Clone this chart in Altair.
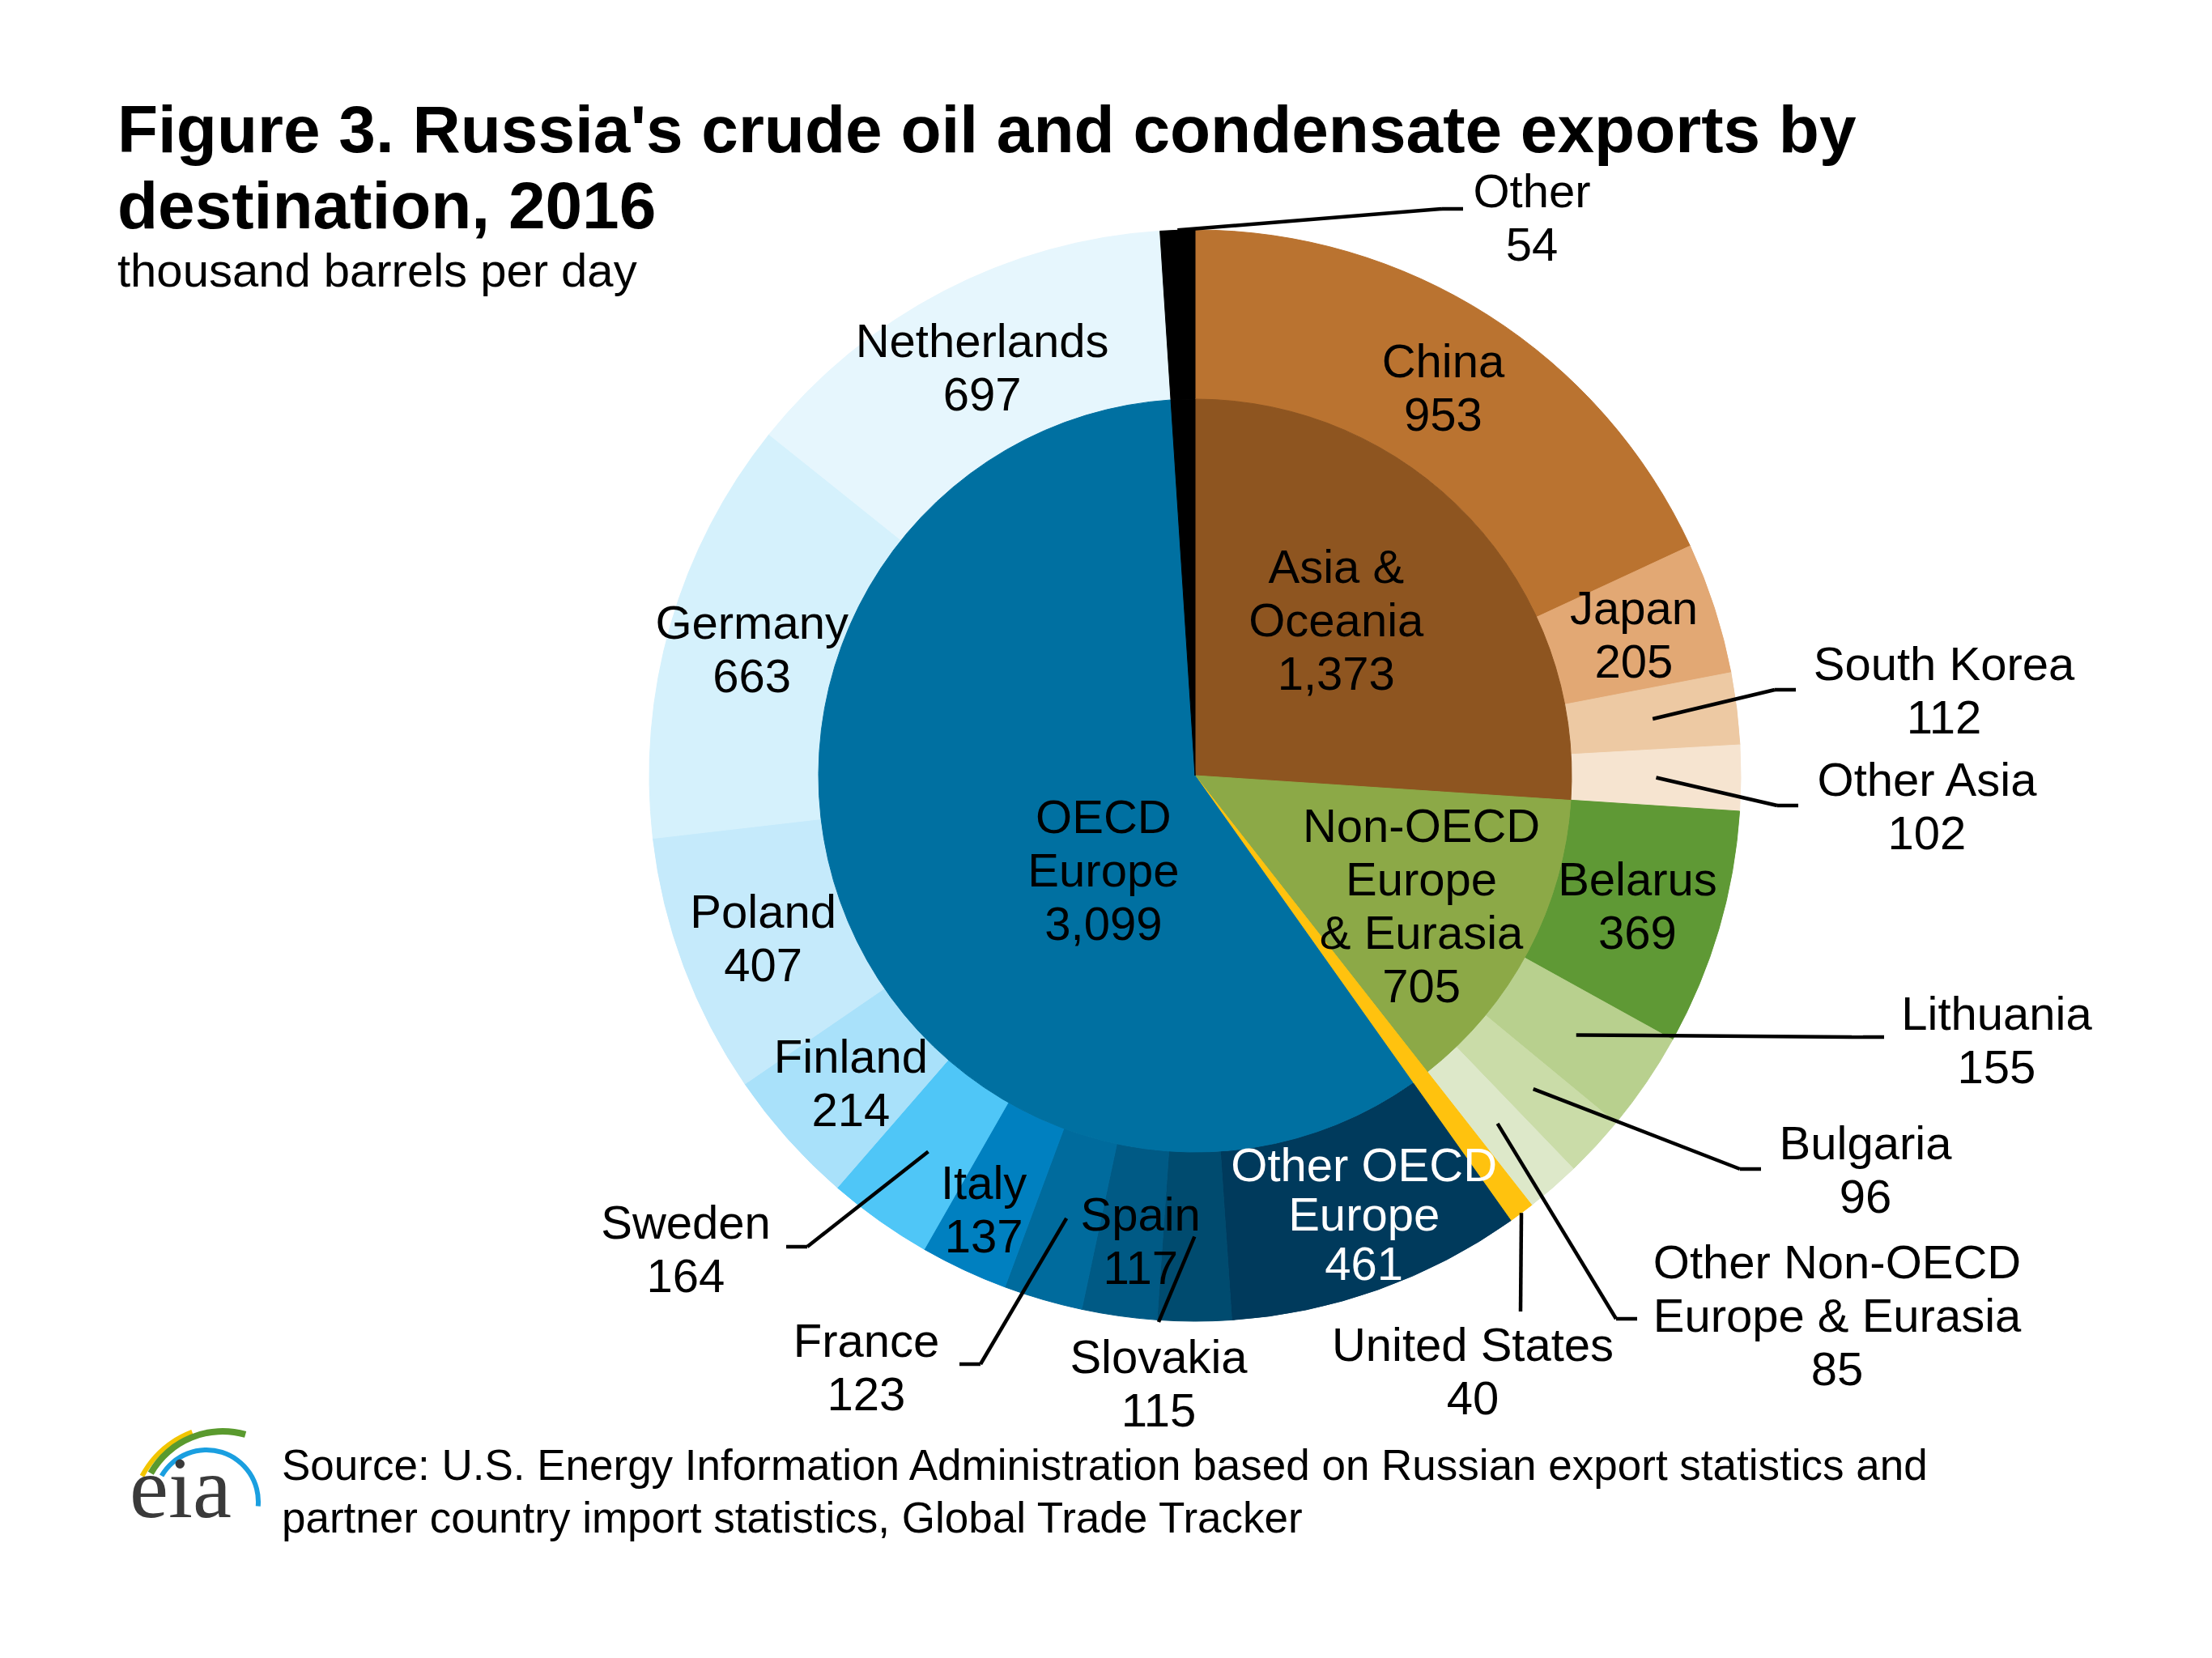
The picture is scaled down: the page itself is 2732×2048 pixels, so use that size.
import altair as alt
import pandas as pd
import numpy as np

# ---------------- data ----------------
regions = ["Asia & Oceania", "Non-OECD Europe & Eurasia", "United States", "OECD Europe", "Other"]
region_values = [1373, 705, 40, 3099, 54]
region_label_text = ["Asia &\nOceania", "Non-OECD\nEurope\n& Eurasia", "", "OECD\nEurope", ""]

countries = ["China", "Japan", "South Korea", "Other Asia",
             "Belarus", "Lithuania", "Bulgaria", "Other Non-OECD Europe & Eurasia",
             "United States",
             "Other OECD Europe", "Slovakia", "Spain", "France", "Italy", "Sweden",
             "Finland", "Poland", "Germany", "Netherlands",
             "Other"]
country_values = [953, 205, 112, 102, 369, 155, 96, 85, 40,
                  461, 115, 117, 123, 137, 164, 214, 407, 663, 697, 54]
country_label_text = ["China", "Japan", "South Korea", "Other Asia",
                      "Belarus", "Lithuania", "Bulgaria", "Other Non-OECD\nEurope & Eurasia",
                      "United States",
                      "Other OECD\nEurope", "Slovakia", "Spain", "France", "Italy", "Sweden",
                      "Finland", "Poland", "Germany", "Netherlands",
                      "Other"]

# ---------------- style ----------------
region_colors = ["#8E5520", "#8CA947", "#FFC20E", "#0070A1", "#000000"]
country_colors = ["#BA7330", "#E2A874", "#EDC9A3", "#F6E4D0",
                  "#5F9935", "#B8D08E", "#CADCA8", "#DDE8C9",
                  "#FFC20E",
                  "#003A5C", "#004B6F", "#005A85", "#006B9D", "#0080C0", "#4FC6F7",
                  "#A9E1FA", "#C5EAFB", "#D5F1FC", "#E6F6FD",
                  "#000000"]
FONT = "Liberation Sans"
LABEL_SIZE = 58
LINE_H = 66
WHITE_LINE_H = 61
TEXT_DY = 4          # optical correction for Vega's 'middle' baseline
W, H = 2700, 2020
CX, CY = 1468, 950
R_OUT, R_IN = 674, 465
R_MID = (R_OUT + R_IN) / 2

# labels drawn outside the ring: label offset from centre, leader end offset from label,
# horizontal tick length, leader start radius
OUTSIDE = {
    "Other": dict(l=(416, -690), e=(-85, -10), tick=-26, r=R_OUT),
    "South Korea": dict(l=(925, -106), e=(-183, 0), tick=-26, r=R_MID),
    "Other Asia": dict(l=(904, 37), e=(-159, 0), tick=-26, r=R_MID),
    "Lithuania": dict(l=(990, 326), e=(-139, -3), tick=-26, r=R_MID),
    "Bulgaria": dict(l=(828, 486), e=(-129, 0), tick=-26, r=R_MID),
    "Other Non-OECD Europe & Eurasia": dict(l=(793, 666), e=(-247, 5), tick=-26, r=R_MID),
    "United States": dict(l=(343, 735), e=(59, -73), tick=0, r=R_OUT),
    "Slovakia": dict(l=(-45, 750), e=(0, -75), tick=0, r=R_MID),
    "France": dict(l=(-406, 730), e=(115, -3), tick=26, r=R_MID),
    "Sweden": dict(l=(-629, 584), e=(124, -2), tick=26, r=R_MID),
}
# in-ring label tweaks: radius offset, angle nudge (deg)
RING_NUDGE = {"Italy": (26, 0.9), "Spain": (8, -1.3), "Other OECD Europe": (10, -1.5)}
# inner label placement: radius, angle nudge (deg) from slice middle
INNER_POS = {"Asia & Oceania": (260, -4.8), "Non-OECD Europe & Eurasia": (322, 1.9),
             "OECD Europe": (162, -26.2)}
WHITE_LABELS = ["Other OECD Europe"]


def polar(r, deg):
    a = np.radians(deg)
    return CX + r * np.sin(a), CY - r * np.cos(a)


def arcs(values):
    v = np.array(values, dtype=float)
    tot = v.sum()
    t1 = np.cumsum(v) / tot * 2 * np.pi
    t0 = t1 - v / tot * 2 * np.pi
    return t0, t1


def first_line_y(yc, text, lh):
    # Vega places the first line at y; shift so the block is centred on yc
    n = text.count("\n") + 1
    return yc - (n - 1) * lh / 2 + TEXT_DY


# ---------------- tables ----------------
t0, t1 = arcs(region_values)
inner = pd.DataFrame({"name": regions, "value": region_values, "t0": t0, "t1": t1,
                      "color": region_colors})
t0c, t1c = arcs(country_values)
outer = pd.DataFrame({"name": countries, "value": country_values, "t0": t0c, "t1": t1c,
                      "color": country_colors})

lab_rows, seg_rows = [], []
for i, row in outer.iterrows():
    mid = np.degrees((row.t0 + row.t1) / 2)
    text = f"{country_label_text[i]}\n{row.value:,}"
    white = row["name"] in WHITE_LABELS
    lh = WHITE_LINE_H if white else LINE_H
    if row["name"] in OUTSIDE:
        o = OUTSIDE[row["name"]]
        lx, ly = CX + o["l"][0], CY + o["l"][1]
        ex, ey = lx + o["e"][0], ly + o["e"][1]
        sx, sy = polar(o["r"], mid)
        bx = ex + o["tick"]
        seg_rows.append(dict(x=sx, y=sy, x2=bx, y2=ey))
        if o["tick"]:
            seg_rows.append(dict(x=bx, y=ey, x2=ex, y2=ey))
    else:
        dr, da = RING_NUDGE.get(row["name"], (0, 0))
        lx, ly = polar(R_MID + dr, mid + da)
    lab_rows.append(dict(x=lx, y=first_line_y(ly, text, lh), text=text, white=white))

for i, row in inner.iterrows():
    if row["name"] in INNER_POS:
        r, nudge = INNER_POS[row["name"]]
        mid = np.degrees((row.t0 + row.t1) / 2) + nudge
        lx, ly = polar(r, mid)
        text = f"{region_label_text[i]}\n{row.value:,}"
        lab_rows.append(dict(x=lx, y=first_line_y(ly, text, LINE_H), text=text, white=False))

labels = pd.DataFrame(lab_rows)
segs = pd.DataFrame(seg_rows)

# ---------------- marks ----------------
X = lambda f: alt.X(f, scale=None, axis=None)
Y = lambda f: alt.Y(f, scale=None, axis=None)

inner_pie = alt.Chart(inner).mark_arc(radius=R_IN, strokeWidth=1).encode(
    theta=alt.Theta("t0:Q", scale=None), theta2="t1:Q",
    color=alt.Color("color:N", scale=None), stroke=alt.Stroke("color:N", scale=None),
    x=alt.value(CX), y=alt.value(CY))

outer_ring = alt.Chart(outer).mark_arc(radius=R_OUT, radius2=R_IN, strokeWidth=1).encode(
    theta=alt.Theta("t0:Q", scale=None), theta2="t1:Q",
    color=alt.Color("color:N", scale=None), stroke=alt.Stroke("color:N", scale=None),
    x=alt.value(CX), y=alt.value(CY))

leaders = alt.Chart(segs).mark_rule(color="black", strokeWidth=4.5).encode(
    x=X("x:Q"), y=Y("y:Q"), x2="x2:Q", y2="y2:Q")

txt_black = alt.Chart(labels[~labels.white]).mark_text(
    font=FONT, fontSize=LABEL_SIZE, lineHeight=LINE_H, lineBreak="\n",
    align="center", baseline="middle", color="black").encode(
    x=X("x:Q"), y=Y("y:Q"), text="text:N")

txt_white = alt.Chart(labels[labels.white]).mark_text(
    font=FONT, fontSize=LABEL_SIZE, lineHeight=WHITE_LINE_H, lineBreak="\n",
    align="center", baseline="middle", color="white").encode(
    x=X("x:Q"), y=Y("y:Q"), text="text:N")

title_df = pd.DataFrame({"t": ["Figure 3. Russia's crude oil and condensate exports by",
                               "destination, 2016"], "y": [180, 274]})
title = alt.Chart(title_df).mark_text(font=FONT, fontSize=82, fontWeight="bold",
                                      align="left", baseline="alphabetic", color="black").encode(
    x=alt.value(137), y=Y("y:Q"), text="t:N")
subtitle = alt.Chart(pd.DataFrame({"t": ["thousand barrels per day"]})).mark_text(
    font=FONT, fontSize=58, align="left", baseline="alphabetic", color="black").encode(
    x=alt.value(137), y=alt.value(346), text="t:N")

source_df = pd.DataFrame({"t": ["Source: U.S. Energy Information Administration based on Russian export statistics and",
                                "partner country import statistics, Global Trade Tracker"],
                          "y": [1820, 1885]})
source = alt.Chart(source_df).mark_text(font=FONT, fontSize=53, align="left",
                                        baseline="alphabetic", color="black").encode(
    x=alt.value(340), y=Y("y:Q"), text="t:N")

# eia logo
logo_text = alt.Chart(pd.DataFrame({"t": ["eia"]})).mark_text(
    font="Liberation Serif", fontSize=108, align="left", baseline="alphabetic",
    color="#3a3a3a").encode(x=alt.value(152), y=alt.value(1866), text="t:N")
swoosh_df = pd.DataFrame({
    "cx": [272, 267, 247], "cy": [1872, 1862, 1847],
    "r0": [116, 98, 61], "r1": [122, 106, 67],
    "a0": [-61.5, -60.5, -60.0], "a1": [-21.0, 16.0, 95.0],
    "c": ["#F2C500", "#5A9A2E", "#1A9FE0"]})
swoosh_df["a0"] = np.radians(swoosh_df["a0"])
swoosh_df["a1"] = np.radians(swoosh_df["a1"])
swooshes = alt.Chart(swoosh_df).mark_arc().encode(
    x=X("cx:Q"), y=Y("cy:Q"),
    theta=alt.Theta("a0:Q", scale=None), theta2="a1:Q",
    radius=alt.Radius("r1:Q", scale=None), radius2="r0:Q",
    color=alt.Color("c:N", scale=None))

chart = alt.layer(outer_ring, inner_pie, leaders, txt_black, txt_white,
                  title, subtitle, source, swooshes, logo_text).properties(
    width=W, height=H, padding=0,
    autosize=alt.AutoSizeParams(type="none"),
    background="white"
).configure_view(stroke=None)

chart.save("out.html", embed_options={"renderer": "svg", "actions": False})
